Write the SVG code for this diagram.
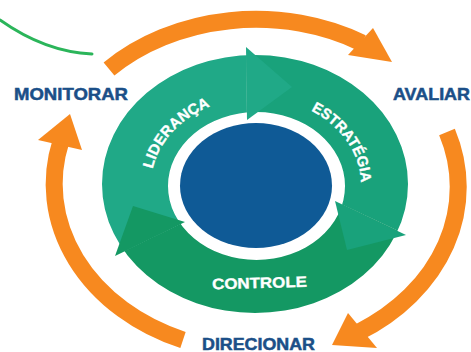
<svg xmlns="http://www.w3.org/2000/svg" width="471" height="352" viewBox="0 0 471 352">
<defs>
<style>
.lbl{font-family:"Liberation Sans",Arial,sans-serif;font-weight:bold;font-size:16.5px;fill:#1b4f88;stroke:#1b4f88;stroke-width:0.5px}
.wt{font-family:"Liberation Sans",Arial,sans-serif;font-weight:bold;font-size:15px;fill:#ffffff;stroke:#ffffff;stroke-width:0.35px}
.band{fill:none;stroke:#f7891f;stroke-width:17}
.head{fill:#f7891f}
.cL{fill:#20a987}.cE{fill:#19a27b}.cC{fill:#149863}
</style>
<clipPath id="ringClip">
<path clip-rule="evenodd" d="M102,184 a153,129 0 1 0 306,0 a153,129 0 1 0 -306,0 Z M168,186 a88.5,74 0 1 0 177,0 a88.5,74 0 1 0 -177,0 Z"/>
</clipPath>
<path id="pL" d="M157.3,214.9 A105,87.4 0 0 1 256,97.6"/>
<path id="pE" d="M268.8,98.3 A105,87.4 0 0 1 349.6,224.7"/>
</defs>
<rect width="471" height="352" fill="#ffffff"/>

<g id="connectors">
<path d="M0,20 Q45,52 92,54" fill="none" stroke="#2bb55a" stroke-width="3" stroke-linecap="round"/>
<path class="band" d="M109,69 A205,164 0 0 1 362,43"/>
<polygon class="head" points="373,28 392,62 348,55"/>
<path class="band" d="M447,132 A208,170 0 0 1 359,332"/>
<polygon class="head" points="348,313 377,348 332,345"/>
<path class="band" d="M183,340 A205,168 0 0 1 61,141"/>
<polygon class="head" points="38,140 70,114 82,150"/>
</g>

<g id="ring">
<g clip-path="url(#ringClip)">
<polygon class="cL" points="256,185 199,215 0,311 0,0 245.4,0 247.3,140"/>
<polygon class="cE" points="256,185 247.3,140 245.4,0 471,0 471,265 309,189"/>
<polygon class="cC" points="256,185 309,189 471,265 471,352 0,352 0,311 199,215"/>
</g>
<polygon class="cL" points="246,47 292,87 247,120"/>
<polygon class="cE" points="335,201 406,235 347,250"/>
<polygon class="cC" points="185,222 115,256 133,206"/>
</g>

<g id="core">
<ellipse cx="256" cy="185.5" rx="76" ry="62.5" fill="#0f5a96"/>
</g>

<g id="seg-lideranca">
<text class="wt"><textPath href="#pL" startOffset="50%" text-anchor="middle">LIDERANÇA</textPath></text>
</g>
<g id="seg-estrategia">
<text class="wt"><textPath href="#pE" startOffset="50%" text-anchor="middle" textLength="92" lengthAdjust="spacingAndGlyphs">ESTRATÉGIA</textPath></text>
</g>
<g id="seg-controle">
<text class="wt" x="212" y="288" font-size="16.5" textLength="95" lengthAdjust="spacingAndGlyphs" transform="rotate(-1.5 259 282)">CONTROLE</text>
</g>

<g id="node-monitorar">
<text class="lbl" x="14" y="100" textLength="114" lengthAdjust="spacingAndGlyphs">MONITORAR</text>
</g>
<g id="node-avaliar">
<text class="lbl" x="393" y="100" textLength="77" lengthAdjust="spacingAndGlyphs">AVALIAR</text>
</g>
<g id="node-direcionar">
<text class="lbl" x="202" y="349.5" textLength="113" lengthAdjust="spacingAndGlyphs">DIRECIONAR</text>
</g>
</svg>
